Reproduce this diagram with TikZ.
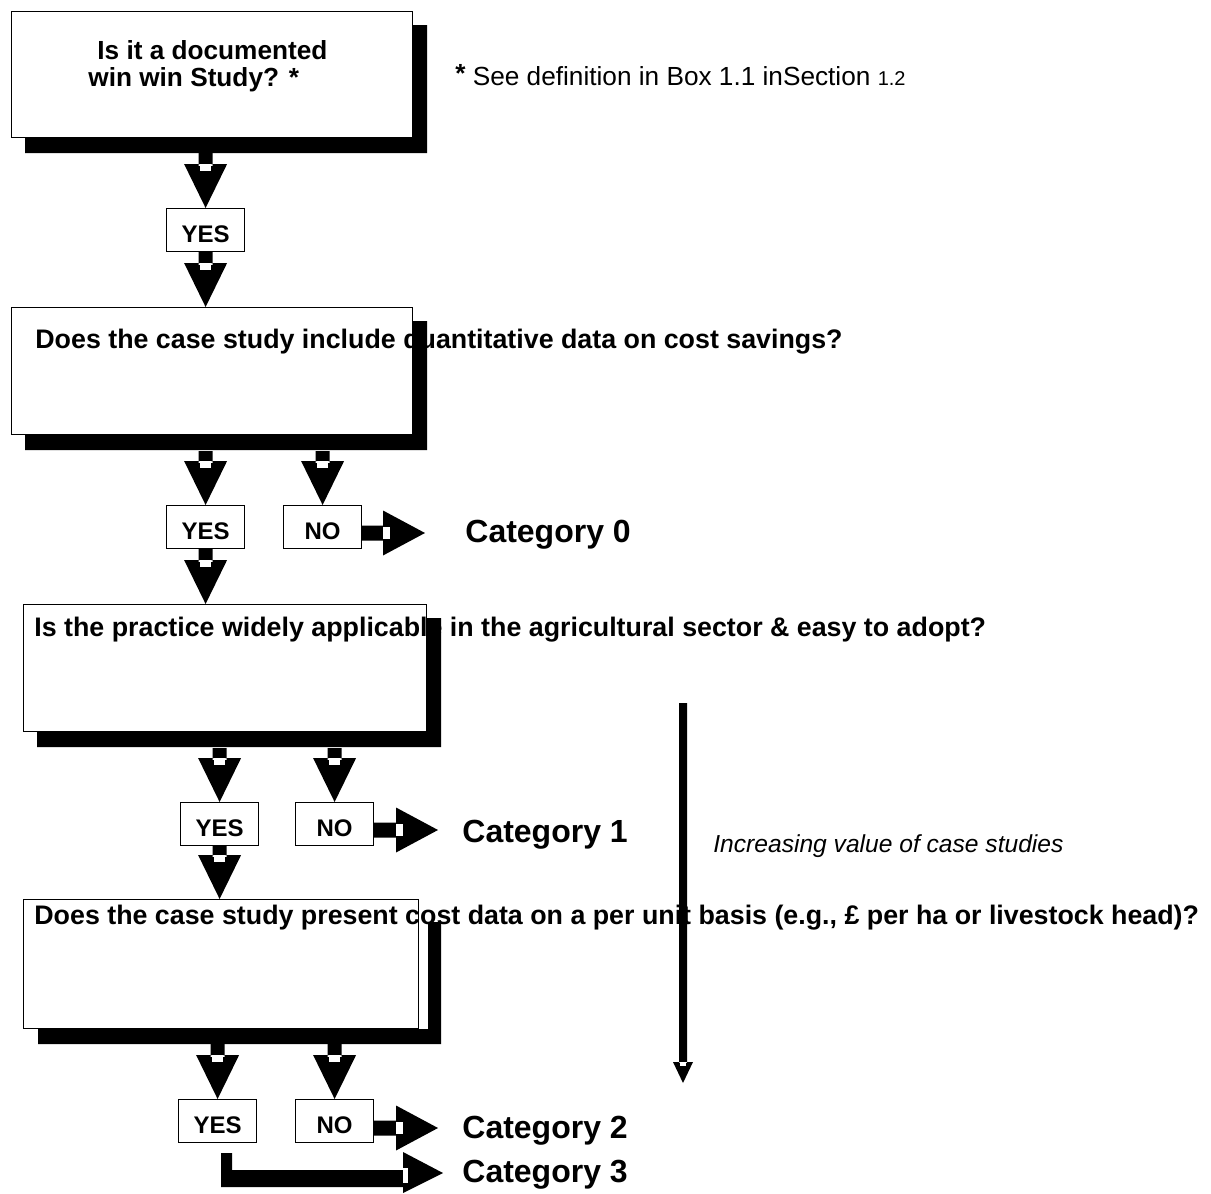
\documentclass[tikz,border=0pt]{standalone}
\usepackage{fontspec}
\setmainfont{Liberation Sans}
\usetikzlibrary{calc}
\tikzset{
 qbox/.style={draw=black, line width=0.6pt, fill=white, anchor=north west, inner sep=0pt},
 ybox/.style={draw=black, line width=0.6pt, fill=white, anchor=north west, inner sep=0pt,
   minimum width=39pt, minimum height=21.5pt, text height=12.1pt, text depth=0pt,
   font=\fontsize{12}{14}\selectfont\bfseries},
 qtext/.style={anchor=base west, inner sep=0pt, font=\fontsize{13.4}{15}\selectfont\bfseries},
 ttext/.style={anchor=base west, inner sep=0pt, font=\fontsize{13.1}{15}\selectfont\bfseries},
 cattext/.style={anchor=base west, inner sep=0pt, font=\fontsize{16}{19}\selectfont\bfseries}
}
% block arrow pointing down: #1 gives the stem top (y), #2 the apex
\newcommand\bdown[2]{%
 \fill let \p1=(#1), \p2=(#2) in
  (\x2-3.5pt,\y1) rectangle (\x2+3.5pt,\y2+21pt)
  (\x2-10.75pt,\y2+22pt) -- (\x2+10.75pt,\y2+22pt) -- (\x2,\y2) -- cycle;
 \fill[white] let \p2=(#2) in (\x2-2.75pt,\y2+22pt) rectangle (\x2+2.75pt,\y2+18.5pt);
}
% block arrow pointing right: #1 gives the stem start (x), #2 the apex
\newcommand\bright[2]{%
 \fill let \p1=(#1), \p2=(#2) in
  (\x1,\y2+3.75pt) rectangle (\x2-20pt,\y2-3.75pt)
  (\x2-21pt,\y2+11.25pt) -- (\x2-21pt,\y2-11.25pt) -- (\x2,\y2) -- cycle;
 \fill[white] let \p2=(#2) in (\x2-21pt,\y2+3pt) rectangle (\x2-17.5pt,\y2-3pt);
}
% L-shaped drop shadow of a box node
\newcommand\shadowL[1]{%
 \fill let \p1=(#1.north east), \p2=(#1.south west) in
  (\x1,\y1-7pt) -- (\x1+7pt,\y1-7pt) -- (\x1+7pt,\y2-7.5pt) --
  (\x2+7pt,\y2-7.5pt) -- (\x2+7pt,\y2) -- (\x1,\y2) -- cycle;
}
\begin{document}
\begin{tikzpicture}[x=0.5pt,y=-0.5pt]
\useasboundingbox (0,0) rectangle (1211,1194);
% question boxes
\node[qbox, minimum width=200.5pt, minimum height=63pt] (q1) at (11,11) {};
\node[qbox, minimum width=200.5pt, minimum height=63.5pt] (q2) at (11,307) {};
\node[qbox, minimum width=201.5pt, minimum height=63.5pt] (q3) at (23,604) {};
\node[qbox, minimum width=197.5pt, minimum height=64.5pt] (q4) at (23,899) {};
% question texts
\node[ttext] (t1a) at (97,60) {Is it a documented};
\node[ttext] (t1b) at (88,86) {win win Study? *};
\node[qtext] (t2) at (35,348) {Does the case study include quantitative data on cost savings?};
\node[qtext] (t3) at (34,636) {Is the practice widely applicable in the agricultural sector \& easy to adopt?};
\node[qtext] (t4) at (34,924) {Does the case study present cost data on a per unit basis (e.g., £ per ha or livestock head)?};
% footnote
\node[anchor=base west, inner sep=0pt, font=\fontsize{13.1}{15}\selectfont] (fn) at (455,85)
  {\raisebox{1.5pt}{\bfseries *} See definition in Box 1.1 inSection {\fontsize{10}{11}\selectfont 1.2}};
% shadows
\shadowL{q1}
\shadowL{q2}
\shadowL{q3}
\fill ($(q4.north east)+(9,23)$) -- ($(q4.north east)+(22,23)$) -- ($(q4.south east)+(22,15)$) --
  ($(q4.south west)+(15,15)$) -- ($(q4.south west)+(15,0)$) -- ($(q4.south east)+(9,0)$) -- cycle;
\coordinate (s1) at ($(q1.south)+(0,15)$);
\coordinate (s2) at ($(q2.south)+(0,16)$);
\coordinate (s3) at ($(q3.south)+(0,16)$);
\coordinate (s4) at ($(q4.south)+(0,15)$);
% answer boxes
\node[ybox] (y1) at (166,208) {YES};
\node[ybox] (y2) at (166,505) {YES};
\node[ybox] (n2) at (283,505) {NO};
\node[ybox] (y3) at (180,802) {YES};
\node[ybox] (n3) at (295,802) {NO};
\node[ybox] (y4) at (178,1099) {YES};
\node[ybox] (n4) at (295,1099) {NO};
% categories
\node[cattext] (c0) at (465,542) {Category 0};
\node[cattext] (c1) at (462,842) {Category 1};
\node[cattext] (c2) at (462,1138) {Category 2};
\node[cattext] (c3) at (462,1182) {Category 3};
\coordinate (e0) at (425,533);
\coordinate (e1) at (438,830);
\coordinate (e2) at (438,1128);
\coordinate (e3) at (443,1173);
% down arrows
\bdown{s1}{y1.north}
\bdown{y1.south}{y1.south |- q2.north}
\bdown{s2}{y2.north}
\bdown{s2}{n2.north}
\bdown{y2.south}{y2.south |- q3.north}
\bdown{s3}{y3.north}
\bdown{s3}{n3.north}
\bdown{y3.south}{y3.south |- q4.north}
\bdown{s4}{y4.north}
\bdown{s4}{n4.north}
% right arrows
\bright{n2.east}{e0}
\bright{n3.east}{e1}
\bright{n4.east}{e2}
% YES -> Category 3
\fill let \p1=(y4.south), \p2=(e3) in
  (\x1+1.75pt,\y1-5pt) rectangle (\x1+7.25pt,\y2-7pt)
  (\x1+1.75pt,\y2+1.5pt) rectangle (\x2-20pt,\y2-7pt)
  (\x2-20pt,\y2+10.5pt) -- (\x2-20pt,\y2-10pt) -- (\x2,\y2) -- cycle;
\fill[white] let \p2=(e3) in (\x2-20pt,\y2+2.5pt) rectangle (\x2-17.5pt,\y2-5pt);
% increasing value arrow
\coordinate (v0) at (683,703);
\coordinate (v1) at (683,1083);
\node[anchor=base west, inner sep=0pt, font=\fontsize{12.3}{15}\selectfont\itshape] (inc) at (713,852) {Increasing value of case studies};
\fill let \p1=(v0), \p2=(v1) in
  (\x1-2pt,\y1) rectangle (\x1+2pt,\y2+10pt)
  (\x2-5pt,\y2+10.5pt) -- (\x2+5pt,\y2+10.5pt) -- (\x2,\y2) -- cycle;
\fill[white] let \p2=(v1) in (\x2-1.5pt,\y2+10.5pt) rectangle (\x2+1.5pt,\y2+8.5pt);
\end{tikzpicture}
\end{document}
